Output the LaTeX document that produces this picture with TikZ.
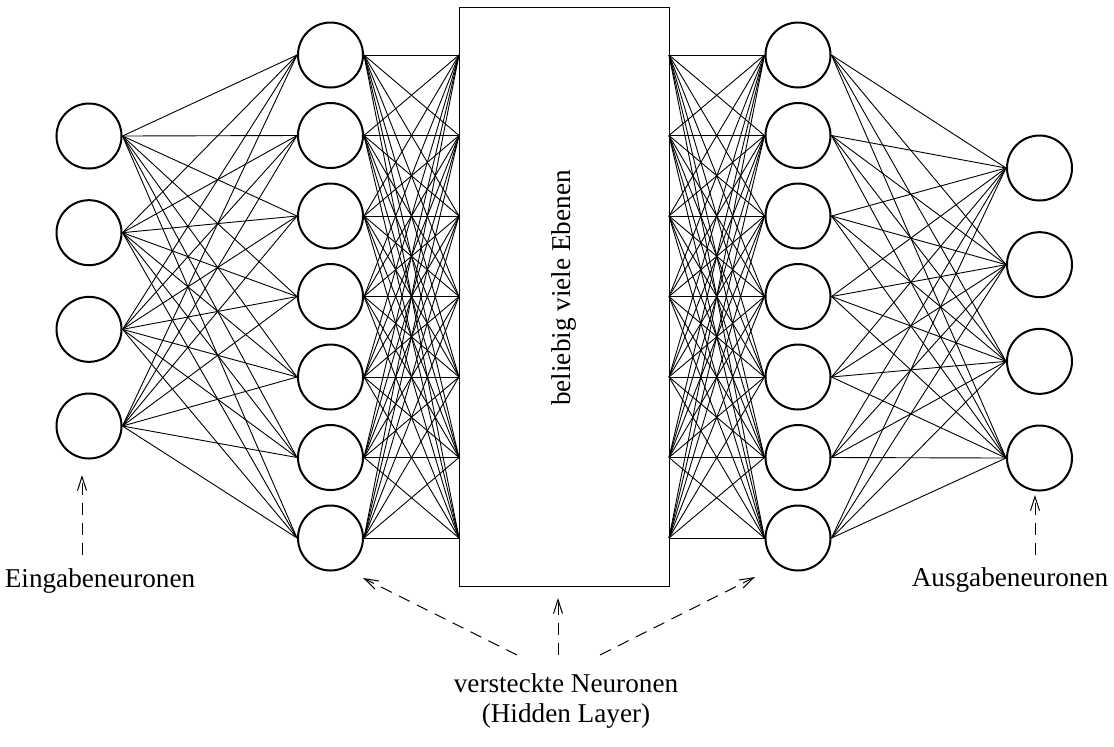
\documentclass[tikz,border=0pt]{standalone}
\usepackage{fontspec}
\setmainfont{Liberation Serif}
\usetikzlibrary{arrows.meta}
\begin{document}
\begin{tikzpicture}[x=0.5pt,y=-0.5pt,
  neuron/.style={circle,draw,line width=1pt,minimum size=32.5pt,inner sep=0pt},
  conn/.style={line width=0.45pt},
  hint/.style={line width=0.5pt,dash pattern=on 6pt off 4pt,-{Straight Barb[length=7pt,width=4.5pt]}},
  lbl/.style={font=\fontsize{13.6}{15}\selectfont,inner sep=0pt}]
\useasboundingbox (0,0) rectangle (1114,746);
\foreach \i in {1,...,4} {
  \node[neuron] (in\i) at (89,{136+96.67*(\i-1)}) {};
  \node[neuron] (out\i) at (1039.5,{168+96.67*(\i-1)}) {};
}
\foreach \i in {1,...,7} {
  \node[neuron] (ha\i) at (330.5,{55+80.5*(\i-1)}) {};
  \node[neuron] (hb\i) at (798,{55+80.5*(\i-1)}) {};
}
\node[draw,line width=0.5pt,minimum width=105pt,minimum height=289.5pt,inner sep=0pt,outer sep=0pt] (box) at (564,296.5) {};
\node[lbl,rotate=90] (boxtext) at (564,288) {beliebig viele Ebenen};
\foreach \i in {1,...,7} {
  \coordinate (bl\i) at (box.west |- ha\i);
  \coordinate (br\i) at (box.east |- hb\i);
}
% input -> hidden A
\foreach \i in {1,...,4} \foreach \j in {1,...,7} \draw[conn] (in\i.east) -- (ha\j.west);
% hidden A -> box
\foreach \i in {1,...,7} \foreach \j in {1,...,7} \draw[conn] (ha\i.east) -- (bl\j);
% box -> hidden B
\foreach \i in {1,...,7} \foreach \j in {1,...,7} \draw[conn] (br\i) -- (hb\j.west);
% hidden B -> output
\foreach \i in {1,...,7} \foreach \j in {1,...,4} \draw[conn] (hb\i.east) -- (out\j.west);
% labels
\node[lbl,anchor=base] (inlbl) at (100,587) {Eingabeneuronen};
\node[lbl,anchor=base] (outlbl) at (1010,586) {Ausgabeneuronen};
\node[lbl,align=center,anchor=base] (hidlbl) at (566,722) {versteckte Neuronen\\(Hidden Layer)};
\coordinate (intail) at (82,555);
\coordinate (intip) at (82,475);
\coordinate (outtail) at (1035,555);
\coordinate (outtip) at (1035,495);
\coordinate (hltail) at (517,655);
\coordinate (hltip) at (363,578);
\coordinate (hmtail) at (558,655);
\coordinate (hmtip) at (558,598);
\coordinate (hrtail) at (600,655);
\coordinate (hrtip) at (755,577);
\draw[hint] (intail) -- (intip);
\draw[hint] (outtail) -- (outtip);
\draw[hint] (hltail) -- (hltip);
\draw[hint] (hmtail) -- (hmtip);
\draw[hint] (hrtail) -- (hrtip);
\end{tikzpicture}
\end{document}
